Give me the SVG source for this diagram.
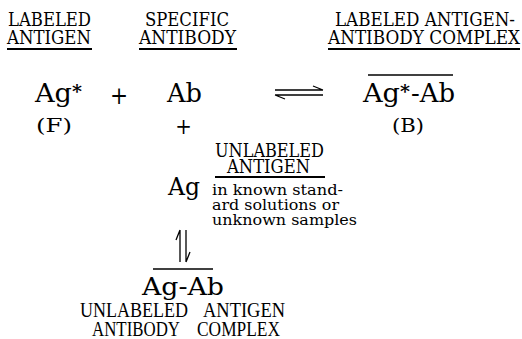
<svg xmlns="http://www.w3.org/2000/svg" width="522" height="339" viewBox="0 0 522 339">
<style>
text{fill:#000;font-family:"DejaVu Serif Condensed","DejaVu Serif",serif;font-stretch:condensed}
.h{font-size:18px}
.big{font-size:26px}
.mid{font-size:23.5px}
.sm{font-size:15px}
.tm{font-family:"Liberation Serif","DejaVu Serif",serif;font-stretch:normal;font-size:22px}
.ul{stroke:#000;stroke-width:2;fill:none}
.ol{stroke:#000;stroke-width:1.5;fill:none}
.ar{stroke:#000;stroke-width:1.3;fill:none}
</style>
<rect width="522" height="339" fill="#fff"/>
<g id="labeled-antigen">
<text class="h" x="8" y="26" textLength="83" lengthAdjust="spacingAndGlyphs">LABELED</text>
<text class="h" x="7" y="44" textLength="84" lengthAdjust="spacingAndGlyphs">ANTIGEN</text>
<line class="ul" x1="7" y1="49" x2="92" y2="49"/>
</g>
<g id="specific-antibody">
<text class="h" x="145" y="26" textLength="84" lengthAdjust="spacingAndGlyphs">SPECIFIC</text>
<text class="h" x="139" y="44" textLength="97" lengthAdjust="spacingAndGlyphs">ANTIBODY</text>
<line class="ul" x1="139" y1="49" x2="237" y2="49"/>
</g>
<g id="labeled-complex">
<text class="h" x="335" y="26" textLength="180" lengthAdjust="spacingAndGlyphs">LABELED ANTIGEN-</text>
<text class="h" x="328" y="44" textLength="192" lengthAdjust="spacingAndGlyphs">ANTIBODY COMPLEX</text>
<line class="ul" x1="328" y1="49" x2="520" y2="49"/>
</g>
<g id="ag-star">
<text class="big" x="35" y="102" textLength="37" lengthAdjust="spacingAndGlyphs">Ag</text>
<text x="72" y="98" style="font-size:18px;font-weight:bold" textLength="10" lengthAdjust="spacingAndGlyphs">*</text>
<text class="h" x="36" y="132" textLength="36" lengthAdjust="spacingAndGlyphs">(F)</text>
</g>
<g id="plus1"><text x="119" y="104" text-anchor="middle" style="font-size:24px">+</text></g>
<g id="ab">
<text class="big" x="167" y="102" textLength="35" lengthAdjust="spacingAndGlyphs">Ab</text>
<text x="183.5" y="134" text-anchor="middle" style="font-size:22px">+</text>
</g>
<g id="bound-complex">
<line class="ol" x1="368" y1="75" x2="453" y2="75"/>
<text class="big" x="363" y="102" textLength="37" lengthAdjust="spacingAndGlyphs">Ag</text>
<text x="400" y="98" style="font-size:18px;font-weight:bold" textLength="10" lengthAdjust="spacingAndGlyphs">*</text>
<text class="big" x="411" y="102" textLength="44" lengthAdjust="spacingAndGlyphs">-Ab</text>
<text class="h" x="392" y="132" textLength="32" lengthAdjust="spacingAndGlyphs">(B)</text>
</g>
<g id="unlabeled-antigen">
<text class="h" x="215" y="157" textLength="109" lengthAdjust="spacingAndGlyphs">UNLABELED</text>
<text class="h" x="227" y="173" textLength="83" lengthAdjust="spacingAndGlyphs">ANTIGEN</text>
<line class="ul" x1="215" y1="177" x2="325" y2="177"/>
<text class="mid" x="168" y="195" textLength="32" lengthAdjust="spacingAndGlyphs">Ag</text>
<text class="sm" x="212" y="195" textLength="131" lengthAdjust="spacingAndGlyphs">in known stand-</text>
<text class="sm" x="212" y="210" textLength="127" lengthAdjust="spacingAndGlyphs">ard solutions or</text>
<text class="sm" x="212" y="225" textLength="145" lengthAdjust="spacingAndGlyphs">unknown samples</text>
</g>
<g id="unlabeled-complex">
<line class="ol" x1="153" y1="269" x2="213" y2="269"/>
<text class="mid" x="142" y="295" textLength="82" lengthAdjust="spacingAndGlyphs">Ag-Ab</text>
<text class="tm" x="80" y="317" textLength="108" lengthAdjust="spacingAndGlyphs">UNLABELED</text>
<text class="tm" x="203" y="317" textLength="82" lengthAdjust="spacingAndGlyphs">ANTIGEN</text>
<text class="tm" x="92" y="336" textLength="88" lengthAdjust="spacingAndGlyphs">ANTIBODY</text>
<text class="tm" x="197" y="336" textLength="83" lengthAdjust="spacingAndGlyphs">COMPLEX</text>
</g>
<g id="connectors">
<path class="ar" d="M275 90 H323 M323 90 L313 86"/>
<path class="ar" d="M275 95 H323 M275 95 L285 99"/>
<path class="ar" d="M180 262 V230 M180 230 L176 240"/>
<path class="ar" d="M186 230 V262 M186 262 L190 252"/>
</g>
</svg>
